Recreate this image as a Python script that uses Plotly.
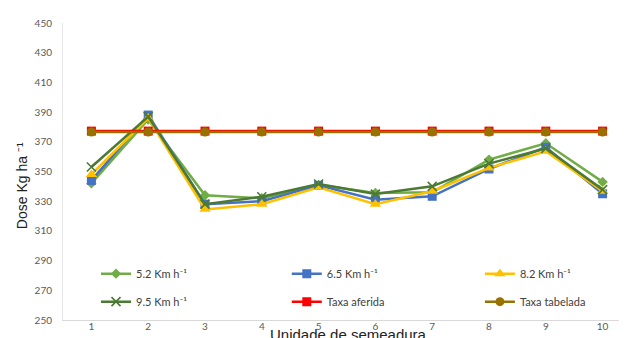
import plotly.graph_objects as go

units = [1, 2, 3, 4, 5, 6, 7, 8, 9, 10]
tick_labels = ["1", "2", "3", "4", "5", "6", "7", "8", "9", "10"]

v52 = [342, 385, 334, 332, 341, 335.5, 336, 358, 369, 343]
v65 = [344, 388, 328, 330, 340.7, 331, 333.3, 351.7, 366.3, 335]
v82 = [348, 386, 324.5, 328, 339.4, 328, 336.7, 352.4, 363.6, 336.7]
v95 = [353, 387, 328, 333, 341.6, 334.8, 340, 355.3, 365.5, 337.8]
aferida = [377.2] * 10
tabelada = [376.6] * 10

series = [
    dict(name="5.2 Km h⁻¹", y=v52, color="#70AD47", symbol="diamond", size=8, legend="legend"),
    dict(name="6.5 Km h⁻¹", y=v65, color="#4472C4", symbol="square", size=9, legend="legend2"),
    dict(name="8.2 Km h⁻¹", y=v82, color="#FFC000", symbol="triangle-up", size=10, legend="legend3"),
    dict(name="9.5 Km h⁻¹", y=v95, color="#4C7A34", symbol="x-thin", size=9, legend="legend"),
    dict(name="Taxa aferida", y=aferida, color="#FF0000", symbol="square", size=9, legend="legend2"),
    dict(name="Taxa tabelada", y=tabelada, color="#987200", symbol="circle", size=9, legend="legend3"),
]

fig = go.Figure()
for i, s in enumerate(series):
    if s["symbol"] == "x-thin":
        marker = dict(symbol="x-thin", size=s["size"], line=dict(color=s["color"], width=1.6), color=s["color"])
    else:
        marker = dict(symbol=s["symbol"], size=s["size"], color=s["color"])
    fig.add_trace(go.Scatter(
        x=units, y=s["y"], name=s["name"], mode="lines+markers",
        line=dict(color=s["color"], width=2.5), marker=marker,
        legend=s["legend"], legendgroup="g%d" % i,
    ))

legend_common = dict(
    orientation="v", xanchor="left", yanchor="middle",
    bgcolor="rgba(0,0,0,0)",
    font=dict(family="Lato, Liberation Sans, sans-serif", size=11, color="#404040"),
    itemclick=False, tracegroupgap=9,
)

legend_y = 0.109
fig.update_layout(
    width=627, height=338,
    margin=dict(l=55, r=4, t=15, b=26),
    paper_bgcolor="white", plot_bgcolor="white",
    showlegend=True,
    legend=dict(x=0.0581, y=legend_y, **legend_common),
    legend2=dict(x=0.394, y=legend_y, **legend_common),
    legend3=dict(x=0.734, y=legend_y, **legend_common),
    xaxis=dict(
        range=[0.5, 10.5], tickmode="array", tickvals=units, ticktext=tick_labels,
        showgrid=False, zeroline=False, showline=True, linecolor="#D9D9D9", linewidth=1,
        ticks="", ticklabelstandoff=-3,
        tickfont=dict(family="Lato, Liberation Sans, sans-serif", size=10, color="#595959"),
    ),
    yaxis=dict(
        range=[250, 450], dtick=20, tick0=250,
        showgrid=False, zeroline=False, showline=True, linecolor="#E6E6E6", linewidth=1,
        ticks="", ticklabelstandoff=8,
        tickfont=dict(family="Lato, Liberation Sans, sans-serif", size=10, color="#595959"),
    ),
    annotations=[
        dict(text="Dose Kg ha ⁻¹", xref="paper", yref="paper", x=-0.072, y=0.451,
             textangle=-90, showarrow=False, xanchor="center", yanchor="middle",
             font=dict(family="Liberation Sans, Arial, sans-serif", size=14, color="#222222")),
        dict(text="Unidade de semeadura", xref="paper", yref="paper", x=0.5035, y=-0.048,
             showarrow=False, xanchor="center", yanchor="middle",
             font=dict(family="Liberation Sans, Arial, sans-serif", size=15, color="#222222")),
    ],
)

fig.write_html("out.html")
